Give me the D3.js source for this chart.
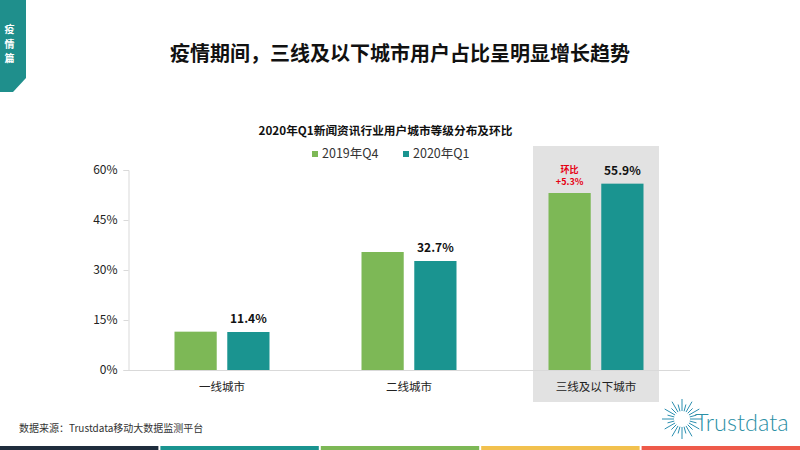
<!DOCTYPE html>
<html>
<head>
<meta charset="utf-8">
<script src="https://cdn.jsdelivr.net/npm/d3@7"></script>
<style>
  html, body { margin: 0; padding: 0; background: #fff; }
  text { font-family: "Noto Sans CJK SC", "Open Sans", sans-serif; }
</style>
</head>
<body>
<svg id="chart" width="800" height="450"></svg>
<script>
const categories = ["一线城市", "二线城市", "三线及以下城市"];
const seriesNames = ["2019年Q4", "2020年Q1"];
const values2019Q4 = [11.5, 35.4, 53.1];
const values2020Q1 = [11.4, 32.7, 55.9];
const yTicks = [0, 15, 30, 45, 60];
const colors = ["#7db856", "#1a9490"];
const stripColors = ["#1f2d3d", "#1a9490", "#7db856", "#f2c14e", "#ee5a4a"];

const svg = d3.select("#chart");

// Seitenrahmen: Reiter links oben
svg.append("path")
  .attr("d", "M0,0H26V78L13,92H0Z")
  .attr("fill", "#1f8f8c");
["疫", "情", "篇"].forEach((t, i) => {
  svg.append("text")
    .attr("x", 9.5).attr("y", 33 + i * 14.6)
    .attr("text-anchor", "middle")
    .attr("fill", "#fff").attr("font-size", 10).attr("font-weight", 700)
    .text(t);
});

svg.append("text")
  .attr("x", 400).attr("y", 61)
  .attr("text-anchor", "middle")
  .attr("fill", "#111").attr("font-size", 20).attr("font-weight", 700)
  .text("疫情期间，三线及以下城市用户占比呈明显增长趋势");

svg.append("text")
  .attr("x", 385.5).attr("y", 135)
  .attr("text-anchor", "middle")
  .attr("fill", "#111").attr("font-size", 11.7).attr("font-weight", 700)
  .text("2020年Q1新闻资讯行业用户城市等级分布及环比");

// Plot
const x = d3.scaleBand().domain(categories).range([128.5, 689.5]);
const inner = d3.scaleBand().domain(seriesNames).range([0, 95]).paddingInner(0.2);
const y = d3.scaleLinear().domain([0, 60]).range([370, 170]);

// grauer Hintergrund hinter der dritten Gruppe
const hlWidth = 126;
svg.append("rect")
  .attr("x", x.bandwidth() / 2 + x(categories[2]) - hlWidth / 2)
  .attr("y", 146)
  .attr("width", hlWidth)
  .attr("height", 256)
  .attr("fill", "#e2e2e2");

const yAxis = d3.axisLeft(y).tickValues(yTicks).tickFormat(d => d + "%").tickSize(5).tickPadding(6);
const gy = svg.append("g").attr("transform", "translate(128.5,0)").call(yAxis);
gy.selectAll("line, path").attr("stroke", "#d9d9d9");
gy.selectAll("text").attr("font-size", 12).attr("fill", "#222");

const xAxis = d3.axisBottom(x).tickSize(0).tickPadding(13);
const gx = svg.append("g").attr("transform", "translate(0,370)").call(xAxis);
gx.selectAll("path").attr("stroke", "#d9d9d9");
gx.selectAll("text").attr("font-size", 11.5).attr("fill", "#222");

const groupLeft = c => x(c) + (x.bandwidth() - 95) / 2;

[values2019Q4, values2020Q1].forEach((vals, s) => {
  svg.append("g").selectAll("rect")
    .data(vals)
    .enter()
    .append("rect")
      .attr("x", (d, i) => groupLeft(categories[i]) + inner(seriesNames[s]))
      .attr("y", d => y(d))
      .attr("width", inner.bandwidth())
      .attr("height", d => y(0) - y(d))
      .attr("fill", colors[s]);
});

// Werte nur fuer 2020 Q1
svg.append("g").selectAll("text")
  .data(values2020Q1)
  .enter()
  .append("text")
    .attr("x", (d, i) => groupLeft(categories[i]) + inner(seriesNames[1]) + inner.bandwidth() / 2)
    .attr("y", d => y(d) - 9)
    .attr("text-anchor", "middle")
    .attr("fill", "#111").attr("font-size", 12).attr("font-weight", 700)
    .text(d => d.toFixed(1) + "%");

// Environment label
const q4Center = groupLeft(categories[2]) + inner(seriesNames[0]) + inner.bandwidth() / 2;
svg.append("text").attr("x", q4Center).attr("y", 173)
  .attr("text-anchor", "middle").attr("fill", "#e60012")
  .attr("font-size", 9).attr("font-weight", 700).text("环比");
svg.append("text").attr("x", q4Center).attr("y", 185)
  .attr("text-anchor", "middle").attr("fill", "#e60012")
  .attr("font-size", 9).attr("font-weight", 700).text("+5.3%");

// Legende
const legendX = [312, 403];
seriesNames.forEach((name, i) => {
  svg.append("rect")
    .attr("x", legendX[i]).attr("y", 151)
    .attr("width", 6).attr("height", 6)
    .attr("fill", colors[i]);
  svg.append("text")
    .attr("x", legendX[i] + 10).attr("y", 157.5)
    .attr("fill", "#333").attr("font-size", 12.5)
    .text(name);
});

svg.append("text")
  .attr("x", 19).attr("y", 432)
  .attr("fill", "#333").attr("font-size", 10)
  .text("数据来源：Trustdata移动大数据监测平台");

// Logo
const logo = svg.append("g").attr("transform", "translate(682,419)").attr("stroke", "#2b8fb0");
d3.range(0, 360, 15).forEach(a => {
  const r = a * Math.PI / 180;
  const len = a % 30 === 0 ? 20 : 15;
  logo.append("line")
    .attr("x1", Math.cos(r) * 8).attr("y1", Math.sin(r) * 8)
    .attr("x2", Math.cos(r) * len).attr("y2", Math.sin(r) * len)
    .attr("stroke-width", 1);
});
svg.append("text")
  .attr("x", 695).attr("y", 431)
  .attr("fill", "#2b8fa5").attr("font-size", 23.5)
  .attr("style", "font-family:Lato,sans-serif;font-weight:300")
  .text("Trustdata");

// Farbstreifen unten
const stripX = d3.scaleBand().domain(d3.range(stripColors.length)).range([0, 800]).paddingInner(0.0125);
svg.append("g").selectAll("rect")
  .data(stripColors)
  .enter()
  .append("rect")
    .attr("x", (d, i) => stripX(i))
    .attr("y", 446)
    .attr("width", stripX.bandwidth())
    .attr("height", 4)
    .attr("fill", d => d);
</script>
</body>
</html>
